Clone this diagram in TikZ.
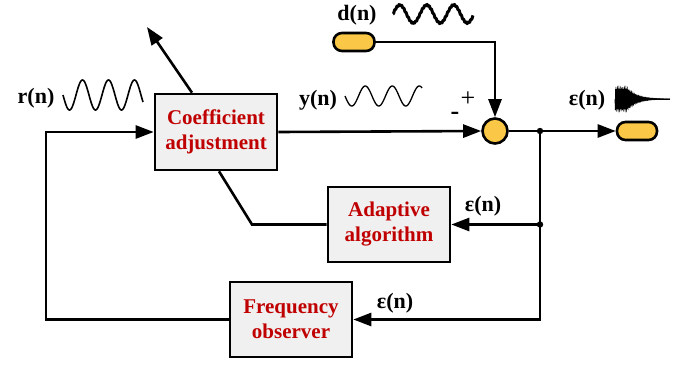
\documentclass[tikz,border=0pt]{standalone}
\usepackage{fontspec}
\setmainfont{Liberation Serif}
\usetikzlibrary{arrows.meta}

\definecolor{boxgray}{RGB}{240,240,240}
\definecolor{txtred}{RGB}{192,0,0}
\definecolor{capyellow}{RGB}{250,200,70}

\begin{document}
\begin{tikzpicture}[x=1pt, y=-1pt,
    block/.style={draw, line width=2.6pt, fill=boxgray, text=txtred, align=center,
        minimum width=122pt, minimum height=75pt, inner sep=0pt,
        font=\fontsize{21}{25}\selectfont\bfseries},
    capsule/.style={draw, line width=2.6pt, fill=capyellow, rounded corners=8.5pt,
        minimum width=41pt, minimum height=18pt, inner sep=0pt},
    lbl/.style={font=\fontsize{22}{24}\selectfont\bfseries, inner sep=0pt},
    wire/.style={line width=2.6pt},
    arr/.style={line width=2.6pt, -{Triangle[length=18pt, width=13pt]}}]
    \useasboundingbox (0,0) rectangle (687,365);

    % Blocks
    \node[block, minimum height=76pt] (coef) at (216,132) {Coefficient\\adjustment};
    \node[block] (adapt) at (389,224.5) {Adaptive\\algorithm};
    \node[block] (freq) at (291,319.5) {Frequency\\observer};

    % Summing point and terminals
    \node[draw, circle, line width=2.6pt, fill=capyellow, minimum size=25pt, inner sep=0pt] (sum) at (495,131) {};
    \node[capsule] (dsrc) at (354,42) {};
    \node[capsule, minimum width=40pt] (eout) at (637,131) {};

    \coordinate (j1) at (540,131);
    \coordinate (j2) at (540,224.5);
    \coordinate (fbk) at (46,200);
    \coordinate (bend) at (252,224.5);
    \coordinate (tune) at (147,27);

    % Connections
    \draw[arr] (coef.east) -- (sum.west);
    \draw[arr] (dsrc.east) -| (sum.north);
    \draw[arr] (sum.east) -- (eout.west);
    \draw[wire] (j1) -- (j2);
    \draw[arr] (j2) -- (adapt.east);
    \draw[arr] (j2) |- (freq.east);
    \draw[arr] (freq.west) -| (fbk) |- (coef.west);
    \draw[wire] (adapt.west) -- (bend) -- ([xshift=3pt]coef.south);
    \draw[arr] ([xshift=-24pt]coef.north) -- (tune);
    \fill (j1) circle (3.2pt);
    \fill (j2) circle (3.2pt);

    % Labels
    \node[lbl] (rlab) at (36,98) {r(n)};
    \node[lbl] (ylab) at (318,100) {y(n)};
    \node[lbl] (dlab) at (357,15) {d(n)};
    \node[lbl] (elab) at (587,100) {ε(n)};
    \node[lbl] (elab2) at (483,206) {ε(n)};
    \node[lbl] (elab3) at (395,303) {ε(n)};
    \node[font=\fontsize{26}{26}\selectfont] (plus) at (468,99) {+};
    \node[font=\fontsize{26}{26}\selectfont\bfseries] (minus) at (455,116) {-};

    % Signal sketches
    \draw[line width=1.6pt, line join=round] plot[domain=0:80, samples=150]
        ({63+\x}, {95+15*sin(13.85*\x)});
    \draw[line width=1.3pt, line join=round] plot[domain=0:77, samples=150]
        ({345+\x}, {96+10*sin(13.33*\x)});
    \draw[line width=3pt, line join=round] plot[domain=0:80, samples=200]
        ({393+\x}, {14-9*sin(13.33*\x)+0.7*sin(156.5*\x)});
    \fill plot[domain=0:55, samples=60] ({615+\x}, {99-10*exp(-max(\x-12,0)/10)})
        -- plot[domain=55:0, samples=60] ({615+\x}, {99+10*exp(-max(\x-12,0)/10)}) -- cycle;
    \draw[line width=0.7pt] plot[domain=0:55, samples=700]
        ({615+\x}, {99+11*exp(-max(\x-12,0)/10)*sin(257*\x)});
    \draw[line width=1pt] (640,99) -- (670,99);
\end{tikzpicture}
\end{document}
